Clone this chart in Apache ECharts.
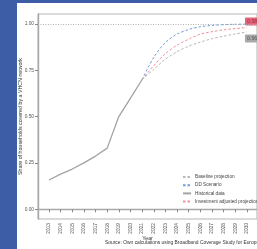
<!DOCTYPE html>
<html>
<head>
<meta charset="utf-8">
<script src="https://cdn.jsdelivr.net/npm/echarts@6/dist/echarts.min.js"></script>
<style>html,body{margin:0;padding:0;background:#3d5ea6;}#c{width:257px;height:249px;}</style>
</head>
<body>
<div id="c"></div>
<script>
const yearTicks = [2013,2014,2015,2016,2017,2018,2019,2020,2021,2022,2023,2024,2025,2026,2027,2028,2029,2030];
const yTicks = [0, 0.25, 0.5, 0.75, 1.0];
const histYears = [2013,2014,2015,2016,2017,2018,2019,2020,2021];
const historical = [0.158, 0.19, 0.217, 0.25, 0.287, 0.33, 0.50, 0.60, 0.70];
const projYears = [2021,2022,2023,2024,2025,2026,2027,2028,2029,2030];
const baseline = [0.70, 0.755, 0.81, 0.85, 0.88, 0.902, 0.92, 0.934, 0.946, 0.957];
const ddScenario = [0.70, 0.82, 0.90, 0.945, 0.97, 0.985, 0.992, 0.996, 0.998, 0.999];
const investment = [0.70, 0.775, 0.84, 0.885, 0.918, 0.945, 0.958, 0.968, 0.975, 0.98];
const names = ['Baseline projection','DD Scenario','Historical data','Investment adjusted projection'];

const pair = (xs, ys) => xs.map((x, i) => [x, ys[i]]);
const chart = echarts.init(document.getElementById('c'), null, {renderer:'canvas'});
const font = 'Liberation Sans';
chart.setOption({
  backgroundColor: '#3d5ea6',
  animation: false,
  textStyle: {fontFamily: font},
  graphic: [
    {type:'rect', z:-10, shape:{x:17, y:3, width:240, height:246}, style:{fill:'#ffffff'}},
    {type:'text', left:105, top:240.5, style:{text:'Source: Own calculations using Broadband Coverage Study for Europe', font:'4.9px ' + font, fill:'#333333'}}
  ],
  grid: {left:38, top:14, right:-2, bottom:30, show:true, borderColor:'#b5b5b5', borderWidth:1, backgroundColor:'#ffffff'},
  legend: {
    orient:'vertical', left:177, top:169.5, itemWidth:8, itemHeight:5, itemGap:3.2,
    itemStyle:{opacity:0},
    data: names, textStyle:{fontSize:4.7, color:'#444', fontFamily:font, padding:[0,0,0,-1]}
  },
  xAxis: {
    type:'value', min:2012.06, max:2030.86,
    name:'Year', nameLocation:'middle', nameGap:17, nameMoveOverlap:false,
    nameTextStyle:{fontSize:5.3, color:'#333'},
    axisLine:{show:true, lineStyle:{color:'#a8a8a8', width:1.4}},
    axisTick:{show:true, length:3, lineStyle:{color:'#888'}, customValues: yearTicks},
    axisLabel:{rotate:90, fontSize:4.8, color:'#555', margin:4, customValues: yearTicks, formatter: v => String(v)},
    splitLine:{show:false}
  },
  yAxis: {
    type:'value', min:-0.0525, max:1.0535,
    name:'Share of households covered by a VHCN network', nameLocation:'middle', nameGap:15, nameMoveOverlap:false,
    nameTextStyle:{fontSize:5.3, color:'#333'},
    axisLine:{show:true, lineStyle:{color:'#a8a8a8', width:1.4}},
    axisTick:{show:true, length:3, lineStyle:{color:'#888'}, customValues: yTicks},
    axisLabel:{fontSize:4.8, color:'#555', margin:4, customValues: yTicks, formatter: v => v.toFixed(2)},
    splitLine:{show:false}
  },
  series: [
    {name:names[0], type:'line', data:pair(projYears, baseline), symbol:'none', smooth:0.3,
     lineStyle:{color:'#b8b8b8', width:1, type:[2.5,2]}, itemStyle:{color:'#b8b8b8'},
     endLabel:{show:true, formatter: p => p.value[1].toFixed(2), fontSize:5.3, color:'#5a5a5a',
       backgroundColor:'#a9a9a9', padding:[1.5,2], borderRadius:1, offset:[-10,6.5]}},
    {name:names[1], type:'line', data:pair(projYears, ddScenario), symbol:'none', smooth:0.3,
     lineStyle:{color:'#6d9fd8', width:1, type:[2.5,2]}, itemStyle:{color:'#6d9fd8'}},
    {name:names[2], type:'line', data:pair(histYears, historical), symbol:'none',
     lineStyle:{color:'#a3a3a3', width:1.3}, itemStyle:{color:'#a3a3a3'},
     markLine:{silent:true, symbol:'none', label:{show:false},
       lineStyle:{color:'#b0b0b0', type:[1,1.5], width:1}, data:[{yAxis:1}]}},
    {name:names[3], type:'line', data:pair(projYears, investment), symbol:'none', smooth:0.3,
     lineStyle:{color:'#f0909c', width:1, type:[2.5,2]}, itemStyle:{color:'#f0909c'},
     endLabel:{show:true, formatter: p => p.value[1].toFixed(2), fontSize:5.3, color:'#a8303f',
       backgroundColor:'#e2667a', padding:[1.5,2], borderRadius:1, offset:[-10,-6]}}
  ]
});
</script>
</body>
</html>
